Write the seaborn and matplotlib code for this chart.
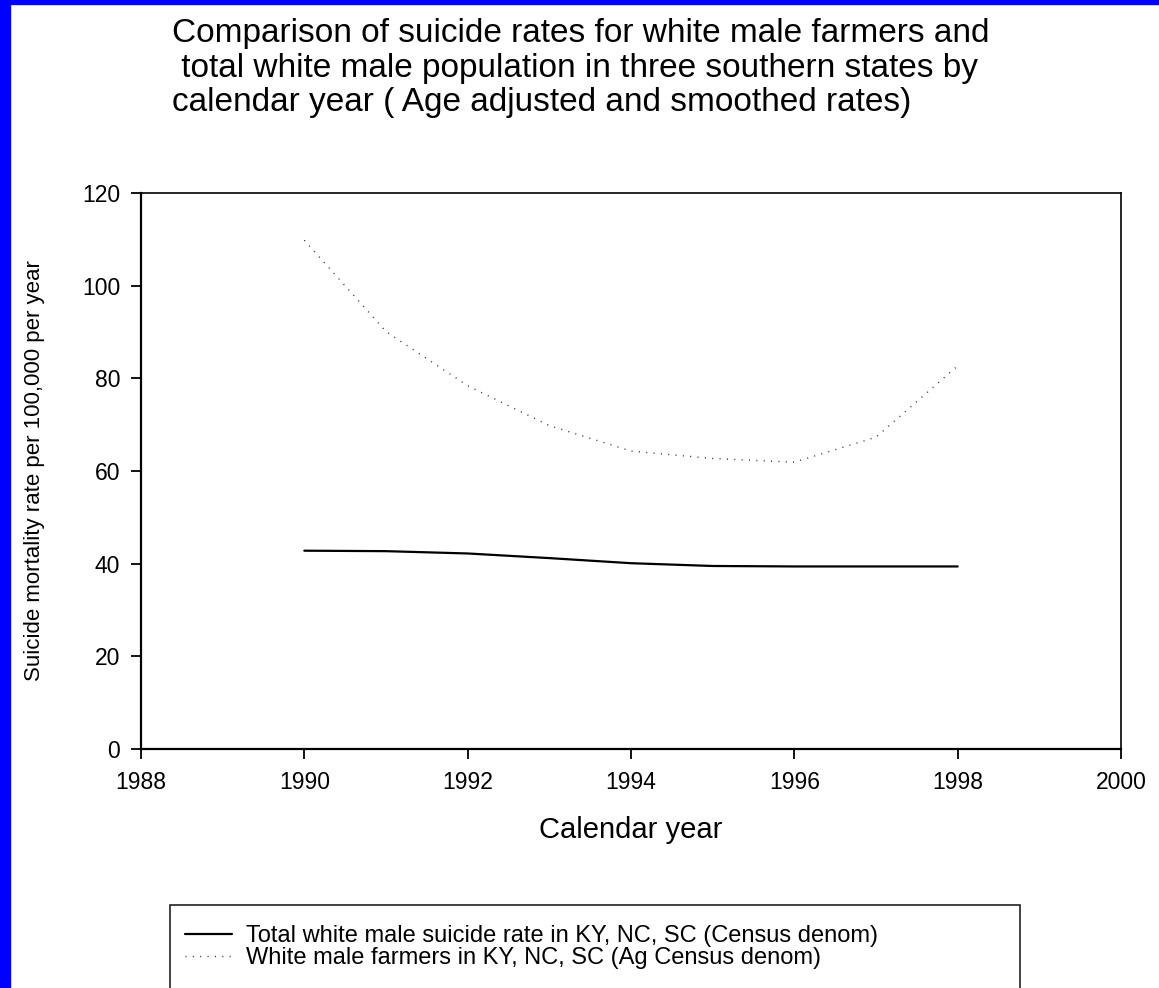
import matplotlib
matplotlib.use("Agg")
import matplotlib.pyplot as plt
import numpy as np
import pandas as pd
import seaborn as sns
from matplotlib.patches import Rectangle

# values (age adjusted, smoothed rates)
years = [1990, 1991, 1992, 1993, 1994, 1995, 1996, 1997, 1998]
total_white_male = [42.8, 42.7, 42.2, 41.2, 40.1, 39.5, 39.4, 39.4, 39.4]
white_male_farmers = [109.8, 90.1, 78.4, 69.8, 64.3, 62.7, 61.9, 67.3, 82.7]

label_total = "Total white male suicide rate in KY, NC, SC (Census denom)"
label_farmers = "White male farmers in KY, NC, SC (Ag Census denom)"

x_ticks = [1988, 1990, 1992, 1994, 1996, 1998, 2000]
y_ticks = [0, 20, 40, 60, 80, 100, 120]

title = ("Comparison of suicide rates for white male farmers and\n"
         " total white male population in three southern states by\n"
         "calendar year ( Age adjusted and smoothed rates)")

sns.set_style("ticks")
plt.rcParams["font.family"] = ["Liberation Sans", "DejaVu Sans"]
plt.rcParams.update({"text.color": "black", "axes.labelcolor": "black",
                     "xtick.color": "black", "ytick.color": "black"})

W, H = 1159, 988
fig = plt.figure(figsize=(W / 100, H / 100), dpi=100)
ax = fig.add_axes([141 / W, 1 - 749 / H, (1121 - 141) / W, (749 - 193) / H])

df = pd.DataFrame({"year": years, "total": total_white_male, "farmers": white_male_farmers})
sns.lineplot(data=df, x="year", y="total", ax=ax, color="black", lw=1.6, label=label_total)
sns.lineplot(data=df, x="year", y="farmers", ax=ax, color="#222222", lw=1.0,
             linestyle=(0, (0.7, 4.6)), label=label_farmers)

ax.set_xlim(1988, 2000)
ax.set_ylim(0, 120)
ax.set_xticks(x_ticks)
ax.set_yticks(y_ticks)
ax.tick_params(axis="both", labelsize=16.5, length=7, width=1.3)
ax.tick_params(axis="x", pad=9)
ax.tick_params(axis="y", pad=8)
for side in ["left", "bottom", "top", "right"]:
    ax.spines[side].set_visible(True)
    ax.spines[side].set_color("black")
ax.spines["left"].set_linewidth(1.6)
ax.spines["bottom"].set_linewidth(1.6)
ax.spines["top"].set_linewidth(1.2)
ax.spines["right"].set_linewidth(1.2)

ax.set_xlabel("Calendar year", fontsize=21, labelpad=16)
ax.set_ylabel("Suicide mortality rate per 100,000 per year", fontsize=16)
ax.yaxis.set_label_coords(-0.098, 0.5)

ax.get_legend().remove()
handles, labels = ax.get_legend_handles_labels()
leg = fig.legend(handles, labels, loc="upper left",
                 bbox_to_anchor=(185 / W, 1 - 925 / H),
                 fontsize=17, frameon=False,
                 handlelength=2.0, handletextpad=0.6, labelspacing=0.0,
                 borderpad=0, borderaxespad=0)

# legend box, its lower edge runs past the bottom of the slide
fig.patches.append(Rectangle((170 / W, -0.05), (1020 - 170) / W, 0.05 + 1 - 905 / H,
                             transform=fig.transFigure, fill=False,
                             edgecolor="#222222", lw=1.2))

fig.text(172 / W, 1 - 18 / H, title, ha="left", va="top", fontsize=24,
         linespacing=1.15)

# blue slide border on the left and top edges
fig.patches.append(Rectangle((0, 0), 10 / W, 1, transform=fig.transFigure,
                             color="#0000ff", zorder=10))
fig.patches.append(Rectangle((0, 1 - 4 / H), 1, 4 / H, transform=fig.transFigure,
                             color="#0000ff", zorder=10))

fig.savefig("out.png", dpi=100)
